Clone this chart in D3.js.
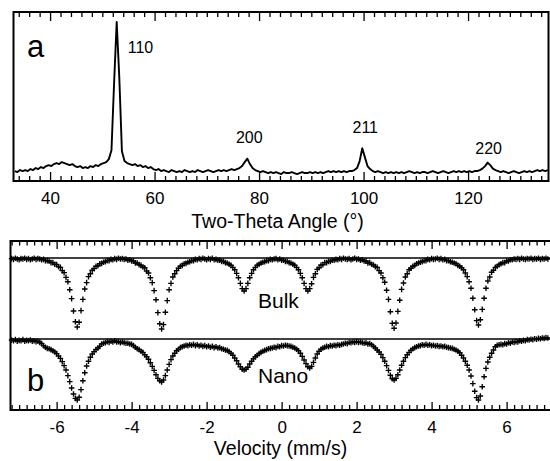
<!DOCTYPE html>
<html>
<head>
<meta charset="utf-8">
<script src="https://cdn.jsdelivr.net/npm/d3@7"></script>
<style>
body { margin: 0; background: #fff; }
</style>
</head>
<body>
<div id="chart"></div>
<script>
// ---------------- data ----------------
// (a) X-ray diffraction, channels every 0.5 deg starting at 33.25 deg
var angleStart = 33.25, angleStep = 0.5;
var xrdCounts = [
  10, 9, 11, 10, 11, 10, 12, 11, 13, 12,
  14, 13, 15, 16, 15, 17, 18, 17, 19, 18,
  17, 16, 17, 15, 14, 15, 13, 14, 13, 15,
  14, 16, 15, 17, 18, 19, 22, 31, 98, 160,
  104, 30, 20, 18, 17, 16, 17, 15, 16, 14,
  15, 13, 14, 12, 11, 12, 10, 11, 10, 9,
  11, 10, 9, 10, 9, 11, 10, 9, 10, 9,
  11, 10, 9, 10, 11, 10, 9, 10, 11, 10,
  11, 10, 11, 12, 11, 12, 13, 15, 19, 22.5,
  17, 13, 11, 10, 9, 10, 9, 8, 9, 8,
  9, 8, 7, 9, 8, 8, 9, 8, 7, 8,
  9, 8, 8, 9, 8, 9, 8, 9, 8, 9,
  10, 9, 10, 9, 10, 9, 10, 9, 10, 10,
  11, 13, 20, 33, 24, 15, 12, 10, 9, 10,
  9, 8, 9, 8, 9, 8, 9, 8, 9, 8,
  9, 10, 9, 8, 9, 8, 9, 9, 8, 9,
  10, 9, 8, 9, 10, 9, 8, 9, 10, 9,
  10, 9, 10, 9, 10, 9, 10, 10, 11, 12.5,
  15, 18.5, 16, 12.5, 11, 10, 9, 10, 9, 8,
  9, 10, 9, 8, 9, 10, 9, 10, 9, 10,
  11, 10, 11, 10, 11
];
var peakHkl = ["110", "200", "211", "220"];
var peakAngle = [52.75, 77.75, 99.75, 123.75];

// (b) Mossbauer spectra, channels every 0.05 mm/s starting at -7.20 mm/s
var velStart = -7.2, velStep = 0.05;
var bulkT = [
  100.1, 99.9, 100.2, 100.0, 99.8, 100.1, 100.0, 100.2, 99.9, 100.1,
  99.8, 100.0, 100.2, 99.9, 100.1, 100.0, 99.8, 99.9, 99.6, 99.6,
  99.5, 99.1, 99.1, 98.7, 98.6, 98.1, 97.9, 97.1, 96.6, 95.4,
  94.3, 92.3, 90.1, 87.0, 84.3, 83.0, 84.2, 87.1, 89.9, 92.5,
  94.1, 95.6, 96.3, 97.2, 97.6, 98.2, 98.3, 98.8, 98.9, 99.2,
  99.3, 99.6, 99.6, 99.9, 99.8, 100.1, 99.9, 100.2, 100.0, 100.1,
  99.9, 100.0, 99.7, 99.8, 99.5, 99.5, 99.0, 99.0, 98.6, 98.4,
  98.0, 97.8, 97.0, 96.5, 95.3, 94.1, 92.1, 89.8, 86.6, 83.8,
  82.5, 83.6, 86.7, 89.6, 92.3, 93.9, 95.5, 96.3, 97.1, 97.7,
  98.2, 98.4, 98.8, 98.9, 99.2, 99.3, 99.6, 99.6, 99.9, 99.8,
  100.1, 99.9, 100.2, 100.0, 99.8, 100.1, 99.9, 100.2, 99.8, 99.9,
  99.7, 99.7, 99.4, 99.4, 99.1, 99.0, 98.7, 98.4, 97.9, 97.3,
  96.4, 95.3, 93.9, 92.6, 92.0, 92.6, 93.9, 95.3, 96.4, 97.3,
  97.9, 98.4, 98.7, 99.0, 99.2, 99.3, 99.6, 99.6, 99.9, 99.8,
  100.0, 100.1, 99.8, 100.0, 99.7, 99.7, 99.4, 99.4, 99.1, 99.0,
  98.7, 98.4, 97.9, 97.3, 96.4, 95.3, 93.9, 92.6, 92.0, 92.6,
  93.8, 95.4, 96.3, 97.4, 97.8, 98.5, 98.6, 99.1, 99.1, 99.4,
  99.4, 99.7, 99.7, 99.9, 99.8, 100.1, 99.9, 100.2, 100.0, 99.9,
  100.1, 99.8, 100.0, 100.2, 99.9, 100.0, 99.7, 99.8, 99.5, 99.5,
  99.0, 99.1, 98.7, 98.5, 98.1, 97.9, 97.1, 96.5, 95.3, 94.2,
  92.2, 89.9, 86.8, 83.9, 82.7, 84.0, 86.9, 89.7, 92.4, 94.0,
  95.5, 96.3, 97.3, 97.7, 98.2, 98.4, 98.8, 99.0, 99.2, 99.3,
  99.6, 99.6, 99.9, 99.8, 100.1, 99.9, 100.0, 100.2, 99.9, 100.1,
  99.8, 99.9, 99.6, 99.6, 99.3, 99.2, 99.0, 98.8, 98.4, 98.2,
  97.8, 97.3, 96.5, 95.6, 94.3, 92.7, 90.2, 87.3, 84.6, 83.5,
  84.8, 87.4, 90.2, 92.7, 94.5, 95.5, 96.7, 97.2, 97.9, 98.2,
  98.6, 98.8, 99.1, 99.1, 99.5, 99.5, 99.8, 99.8, 100.0, 99.9,
  100.1, 99.9, 100.2, 100.0, 99.9, 100.1, 100.0, 100.2, 99.9, 100.1,
  100.0, 100.2, 99.9, 100.1, 100.0, 100.2, 100.0
];
var nanoT = [
  100.0, 99.8, 100.1, 99.7, 99.9, 99.8, 100.1, 99.7, 99.9, 99.8,
  100.0, 99.7, 99.8, 99.6, 99.7, 99.4, 99.1, 98.6, 98.2, 97.9,
  97.8, 97.6, 97.3, 97.0, 96.6, 96.0, 95.4, 94.6, 93.6, 92.5,
  91.1, 89.6, 88.0, 86.5, 85.4, 85.0, 85.7, 87.6, 89.8, 91.8,
  93.5, 94.7, 95.7, 96.5, 97.1, 97.6, 98.0, 98.4, 99.0, 99.2,
  99.3, 99.6, 99.4, 99.7, 99.5, 99.8, 99.5, 99.6, 99.3, 99.5,
  99.3, 99.2, 99.2, 99.0, 98.9, 98.6, 98.2, 97.8, 97.6, 97.2,
  96.9, 96.3, 95.8, 95.2, 94.3, 93.4, 92.4, 91.3, 90.4, 89.8,
  89.5, 90.0, 91.1, 92.5, 93.9, 95.1, 96.0, 96.7, 97.3, 97.7,
  98.1, 98.3, 98.5, 98.7, 98.6, 98.8, 98.7, 98.9, 98.6, 98.8,
  98.5, 98.7, 98.4, 98.6, 98.3, 98.5, 98.2, 98.4, 98.1, 98.3,
  98.0, 98.1, 97.8, 97.7, 97.5, 97.4, 97.1, 96.7, 96.2, 95.5,
  94.8, 94.0, 93.3, 92.7, 92.5, 92.7, 93.2, 94.0, 94.7, 95.3,
  95.8, 96.2, 96.6, 96.9, 97.2, 97.4, 97.6, 97.8, 97.9, 98.0,
  98.2, 98.1, 98.4, 98.3, 98.6, 98.5, 98.7, 98.6, 98.5, 98.4,
  98.2, 98.0, 97.7, 97.3, 96.7, 95.9, 95.0, 94.1, 93.3, 93.0,
  93.4, 94.4, 95.5, 96.5, 97.2, 97.7, 98.0, 98.2, 98.4, 98.3,
  98.6, 98.5, 98.7, 98.6, 98.8, 98.7, 98.9, 99.0, 99.2, 99.1,
  99.4, 99.3, 99.5, 99.4, 99.6, 99.4, 99.5, 99.3, 99.2, 99.3,
  99.0, 99.1, 98.8, 98.4, 98.0, 97.5, 97.0, 96.4, 95.6, 94.7,
  93.6, 92.4, 91.2, 90.3, 90.0, 90.4, 91.3, 92.5, 93.7, 94.7,
  95.6, 96.3, 96.9, 97.4, 97.8, 98.1, 98.3, 98.5, 98.6, 98.8,
  98.7, 98.9, 98.7, 98.8, 98.6, 98.7, 98.5, 98.6, 98.4, 98.5,
  98.3, 98.4, 98.2, 98.1, 98.0, 97.9, 97.7, 97.5, 97.2, 96.8,
  96.2, 95.5, 94.7, 93.7, 92.5, 91.0, 89.1, 87.2, 85.6, 85.0,
  86.0, 88.3, 90.8, 92.9, 94.5, 95.7, 96.7, 97.5, 98.3, 98.7,
  98.8, 98.9, 98.8, 99.1, 99.0, 99.3, 99.2, 99.5, 99.4, 99.6,
  99.5, 99.8, 99.7, 99.9, 99.8, 100.1, 100.0, 100.2, 100.1, 100.3,
  100.2, 100.4, 100.3, 100.5, 100.4, 100.6, 100.5
];
var spectrumNames = ["Bulk", "Nano"];
var spectrumShift = [0, 20.25];   // nano trace is offset downwards
var offResonance = 100.25;        // level of the drawn reference lines

// ---------------- layout ----------------
var width = 550, height = 461;
var font = "'Liberation Sans', Arial, Helvetica, sans-serif";

var pa = { left: 13.5, right: 548.5, top: 12, bottom: 181 };
var pb = { left: 10.5, right: 550, top: 241, bottom: 410 };

var svg = d3.select("#chart")
  .append("svg")
  .attr("width", width)
  .attr("height", height)
  .style("font-family", font);

// ---------------- panel a ----------------
var xA = d3.scaleLinear().domain([33, 135.3]).range([pa.left, 548]);
var yA = d3.scaleLinear().domain([0, 170]).range([pa.bottom, pa.top]);

var xrd = xrdCounts.map(function(c, i) {
  return { angle: angleStart + i * angleStep, counts: c };
});

// draw an axis with inward ticks only (frame is drawn separately)
function tickAxis(axis, y) {
  var g = svg.append("g").attr("transform", "translate(0," + y + ")");
  g.call(axis);
  g.select(".domain").remove();
  g.selectAll("line").attr("stroke", "#000").attr("stroke-width", 1.3);
  g.attr("font-family", font).attr("font-size", 17);
  g.selectAll("text").attr("fill", "#000");
  return g;
}

var majorA = [40, 60, 80, 100, 120];
var minorA = d3.range(34, 136, 2).filter(function(d) { return d % 20 !== 0; });

tickAxis(d3.axisBottom(xA).tickValues(majorA).tickSize(-9).tickPadding(11), pa.bottom);
tickAxis(d3.axisBottom(xA).tickValues(minorA).tickSize(-5).tickFormat(""), pa.bottom);
tickAxis(d3.axisTop(xA).tickValues(majorA).tickSize(-9).tickFormat(""), pa.top);
tickAxis(d3.axisTop(xA).tickValues(minorA).tickSize(-5).tickFormat(""), pa.top);

svg.append("rect")
  .attr("x", pa.left).attr("y", pa.top)
  .attr("width", pa.right - pa.left).attr("height", pa.bottom - pa.top)
  .attr("fill", "none").attr("stroke", "#000").attr("stroke-width", 2);

svg.append("path")
  .datum(xrd)
  .attr("fill", "none")
  .attr("stroke", "#000")
  .attr("stroke-width", 1.9)
  .attr("stroke-linejoin", "round")
  .attr("d", d3.line()
    .x(function(d) { return xA(d.angle); })
    .y(function(d) { return yA(d.counts); }));

// peak labels, placed relative to the peak maximum
var labelDx = [11, 2, 3, 1];
var labelDy = [31, -15.5, -15, -8.5];
var labelAnchor = ["start", "middle", "middle", "middle"];
peakHkl.forEach(function(h, k) {
  var i = Math.round((peakAngle[k] - angleStart) / angleStep);
  svg.append("text")
    .attr("x", xA(peakAngle[k]) + labelDx[k])
    .attr("y", yA(xrdCounts[i]) + labelDy[k])
    .attr("text-anchor", labelAnchor[k])
    .attr("font-size", 16)
    .text(h);
});

svg.append("text")
  .attr("x", pa.left + 13.5).attr("y", pa.top + 45)
  .attr("font-size", 31)
  .text("a");

svg.append("text")
  .attr("x", 277.5).attr("y", 227.5)
  .attr("text-anchor", "middle")
  .attr("font-size", 19.5)
  .text("Two-Theta Angle (°)");

// ---------------- panel b ----------------
var xB = d3.scaleLinear().domain([-7.23, 7.12]).range([pb.left, 548.6]);
var yB = d3.scaleLinear().domain([62.25, 104.5]).range([pb.bottom, pb.top]);

var majorB = [-6, -4, -2, 0, 2, 4, 6];
var minorB = d3.range(-72, 72, 2).map(function(d) { return d / 10; })
  .filter(function(d) { return Math.abs(d % 2) > 0.01; });
var fmtB = function(d) { return d < 0 ? "-" + Math.abs(d) : "" + d; };

tickAxis(d3.axisBottom(xB).tickValues(majorB).tickSize(-8).tickPadding(10.5).tickFormat(fmtB), pb.bottom);
tickAxis(d3.axisBottom(xB).tickValues(minorB).tickSize(-5).tickFormat(""), pb.bottom);
tickAxis(d3.axisTop(xB).tickValues(majorB).tickSize(-8).tickFormat(""), pb.top);
tickAxis(d3.axisTop(xB).tickValues(minorB).tickSize(-4.5).tickFormat(""), pb.top);

svg.append("path")
  .attr("fill", "none").attr("stroke", "#000").attr("stroke-width", 2)
  .attr("d", "M" + pb.right + "," + pb.top + "H" + pb.left + "V" + pb.bottom + "H" + pb.right);

// reference (off-resonance) lines
spectrumShift.forEach(function(s) {
  svg.append("line")
    .attr("x1", pb.left).attr("x2", pb.right)
    .attr("y1", yB(offResonance - s)).attr("y2", yB(offResonance - s))
    .attr("stroke", "#000").attr("stroke-width", 1.4);
});

[bulkT, nanoT].forEach(function(series, s) {
  var pts = series.map(function(t, i) {
    return { v: velStart + i * velStep, t: t - spectrumShift[s] };
  });
  svg.append("g").selectAll("path")
    .data(pts)
    .enter()
    .append("path")
    .attr("transform", function(d) { return "translate(" + xB(d.v) + "," + yB(d.t) + ")"; })
    .attr("d", "M-2.8,0H2.8M0,-2.8V2.8")
    .attr("stroke", "#000")
    .attr("stroke-width", 1.35)
    .attr("fill", "none");
});

// spectrum names
var nameDy = [50, 44];
spectrumNames.forEach(function(n, s) {
  svg.append("text")
    .attr("x", xB(-0.63))
    .attr("y", yB(offResonance - spectrumShift[s]) + nameDy[s])
    .attr("font-size", 21)
    .text(n);
});

svg.append("text")
  .attr("x", pb.left + 16.5).attr("y", pb.bottom - 19)
  .attr("font-size", 31)
  .text("b");

svg.append("text")
  .attr("x", 280.5).attr("y", 455)
  .attr("text-anchor", "middle")
  .attr("font-size", 19.5)
  .text("Velocity (mm/s)");
</script>
</body>
</html>
